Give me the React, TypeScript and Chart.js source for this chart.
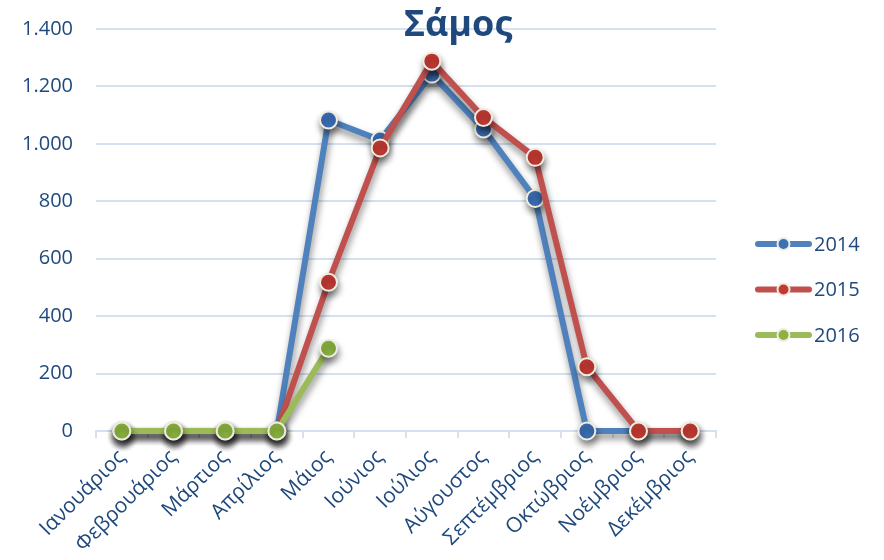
import React, { useEffect, useRef } from "react";
import { Chart, registerables } from "chart.js";

Chart.register(...registerables);

const months = [
  "Ιανουάριος", "Φεβρουάριος", "Μάρτιος", "Απρίλιος", "Μάιος", "Ιούνιος",
  "Ιούλιος", "Αύγουστος", "Σεπτέμβριος", "Οκτώβριος", "Νοέμβριος", "Δεκέμβριος",
];
const series2014 = [0, 0, 0, 0, 1083, 1013, 1243, 1052, 810, 0, 0, 0];
const series2015 = [0, 0, 0, 0, 518, 986, 1288, 1092, 953, 224, 0, 0];
const series2016 = [0, 0, 0, 0, 288, null, null, null, null, null, null, null];
const seriesNames = ["2014", "2015", "2016"];
const titleText = "Σάμος";

const FONT = "'Open Sans', 'DejaVu Sans', sans-serif";
const TEXT = "#1F497D";
const GRID = "#D5E1F1";
const lineColors = ["#4F81BD", "#C0504D", "#9BBB59"];
const pointColors = ["#3B6FB6", "#C33A33", "#8AB43F"];
const CREAM = "#EEECE1";

const fmt = (v: number) => String(v).replace(/\B(?=(\d{3})+(?!\d))/g, ".");

const shadowPlugin = {
  id: "shadow",
  beforeDatasetsDraw(chart: any) {
    const ctx = chart.ctx;
    ctx.save();
    ctx.shadowColor = "rgba(0,0,0,0.45)";
    ctx.shadowBlur = 7;
    ctx.shadowOffsetX = 1;
    ctx.shadowOffsetY = 5;
  },
  afterDatasetsDraw(chart: any) {
    chart.ctx.restore();
  },
};

const overlayPlugin = {
  id: "overlay",
  afterDraw(chart: any) {
    const ctx = chart.ctx;
    const area = chart.chartArea;
    ctx.save();
    // title
    ctx.fillStyle = TEXT;
    ctx.font = `bold 36px ${FONT}`;
    ctx.textAlign = "center";
    ctx.textBaseline = "alphabetic";
    ctx.fillText(titleText, 458, 36);
    // legend
    const x0 = area.right + 39;
    const lineLen = 57;
    const startY = 244;
    const step = 45.5;
    chart.data.datasets.forEach((ds: any, i: number) => {
      const y = startY + i * step;
      ctx.strokeStyle = ds.borderColor;
      ctx.lineWidth = 6;
      ctx.lineCap = "round";
      ctx.beginPath();
      ctx.moveTo(x0 + 3, y);
      ctx.lineTo(x0 + lineLen - 3, y);
      ctx.stroke();
      ctx.beginPath();
      ctx.arc(x0 + lineLen / 2, y, 6, 0, Math.PI * 2);
      ctx.fillStyle = ds.pointBackgroundColor;
      ctx.fill();
      ctx.lineWidth = 2;
      ctx.strokeStyle = CREAM;
      ctx.stroke();
      ctx.fillStyle = TEXT;
      ctx.font = `20px ${FONT}`;
      ctx.textAlign = "left";
      ctx.textBaseline = "middle";
      ctx.fillText(ds.label, x0 + lineLen + 2, y + 1);
    });
    ctx.restore();
  },
};

export default function App() {
  const ref = useRef<HTMLCanvasElement | null>(null);
  useEffect(() => {
    if (!ref.current) return;
    const all = [series2014, series2015, series2016];
    const chart = new Chart(ref.current, {
      type: "line",
      data: {
        labels: months,
        datasets: all.map((d, i) => ({
          label: seriesNames[i],
          data: d,
          order: 3 - i,
          borderColor: lineColors[i],
          backgroundColor: lineColors[i],
          borderWidth: 6,
          pointRadius: 8.5,
          pointHoverRadius: 8.5,
          pointBorderWidth: 2,
          pointBorderColor: CREAM,
          pointBackgroundColor: pointColors[i],
          tension: 0,
          spanGaps: false,
          clip: false as any,
        })),
      },
      options: {
        animation: false,
        responsive: false,
        maintainAspectRatio: false,
        layout: { padding: { top: 29, right: 168, left: 0, bottom: 0 } },
        plugins: {
          legend: { display: false },
          title: { display: false },
          tooltip: { enabled: false },
        },
        scales: {
          x: {
            offset: true,
            grid: {
              display: true,
              drawOnChartArea: false,
              drawTicks: true,
              tickLength: 7,
              color: GRID,
              lineWidth: 2,
              offset: true,
            },
            border: { display: true, color: GRID, width: 2 },
            ticks: {
              color: TEXT,
              font: { family: FONT, size: 21 },
              maxRotation: 45,
              minRotation: 45,
              autoSkip: false,
              padding: 7,
            },
            afterFit(scale: any) {
              scale.height = 129;
              scale.paddingLeft = 0;
              scale.paddingRight = 0;
              scale.paddingTop = 0;
              scale.paddingBottom = 0;
            },
          },
          y: {
            min: 0,
            max: 1400,
            ticks: {
              stepSize: 200,
              color: TEXT,
              font: { family: FONT, size: 20 },
              padding: 23,
              callback: (v: any) => fmt(Number(v)),
            },
            grid: { color: GRID, lineWidth: 2, drawTicks: false },
            border: { display: false },
            afterFit(scale: any) {
              scale.width = 96;
              scale.paddingTop = 0;
              scale.paddingBottom = 0;
              scale.paddingLeft = 0;
              scale.paddingRight = 0;
            },
          },
        },
      },
      plugins: [shadowPlugin, overlayPlugin],
    });
    return () => chart.destroy();
  }, []);
  return (
    <div style={{ position: "absolute", left: 0, top: 0, width: 884, height: 560, background: "#fff" }}>
      <canvas ref={ref} width={884} height={560} style={{ display: "block" }} />
    </div>
  );
}
